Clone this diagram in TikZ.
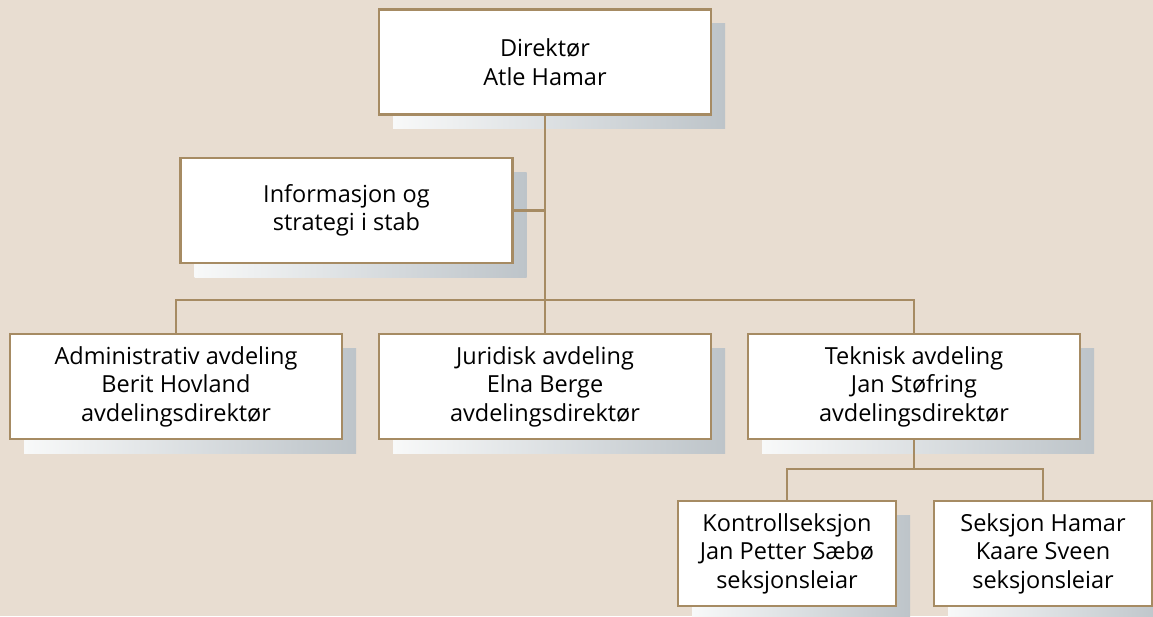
\documentclass[tikz,border=0pt]{standalone}
\usepackage{fontspec}
\setmainfont{Open Sans}
\usetikzlibrary{shadows}
\definecolor{bg}{HTML}{E8DDD1}
\definecolor{ln}{HTML}{A68B63}
\definecolor{shR}{HTML}{BDC4C9}
\definecolor{shL}{HTML}{F8F9F9}
\begin{document}
\begin{tikzpicture}[x=1pt,y=-1pt,
  box/.style={draw=ln, line width=2.2pt, fill=white, align=center,
    font=\fontsize{23.5}{28.5}\selectfont, inner sep=0pt,
    general shadow={shadow xshift=14pt, shadow yshift=-14pt, left color=shL, right color=shR, draw=none}},
  big/.style={box, minimum width=332pt, minimum height=105pt},
  small/.style={box, minimum width=218pt, minimum height=105pt},
  conn/.style={draw=ln, line width=2.2pt}]
\fill[bg] (0,0) rectangle (1153,616);
\useasboundingbox (0,0) rectangle (1153,616);

\node[big] (dir) at (545,62) {Direktør\\Atle Hamar};
\node[big] (info) at (346.5,210.5) {Informasjon og\\strategi i stab};
\node[big] (adm) at (176,386.5) {Administrativ avdeling\\Berit Hovland\\avdelingsdirektør};
\node[big] (jur) at (545,386.5) {Juridisk avdeling\\Elna Berge\\avdelingsdirektør};
\node[big] (tek) at (914,386.5) {Teknisk avdeling\\Jan Støfring\\avdelingsdirektør};
\node[small] (kon) at (787,553.5) {Kontrollseksjon\\Jan Petter Sæbø\\seksjonsleiar};
\node[small] (sek) at (1043,553.5) {Seksjon Hamar\\Kaare Sveen\\seksjonsleiar};

\coordinate (b1) at (545,300);
\coordinate (b2) at (914,469);
\draw[conn] (dir.south) -- (b1);
\draw[conn] (info.east) -- (info.east -| dir.south);
\draw[conn] (adm.north) |- (b1);
\draw[conn] (tek.north) |- (b1);
\draw[conn] (jur.north) -- (b1);
\draw[conn] (tek.south) -- (b2);
\draw[conn] (kon.north) |- (b2);
\draw[conn] (sek.north) |- (b2);
\end{tikzpicture}
\end{document}
